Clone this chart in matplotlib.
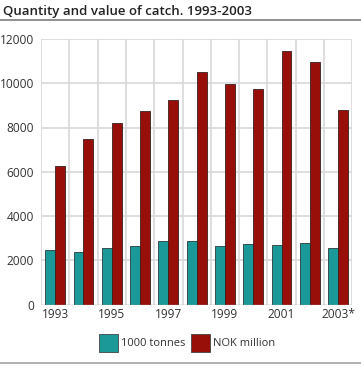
import matplotlib
matplotlib.use("Agg")
import matplotlib.pyplot as plt
from matplotlib.lines import Line2D
from matplotlib.patches import Patch
import numpy as np

years = ["1993", "1994", "1995", "1996", "1997", "1998", "1999", "2000", "2001", "2002", "2003*"]
tonnes = [2470, 2370, 2560, 2660, 2880, 2870, 2660, 2740, 2710, 2770, 2560]
nok = [6280, 7490, 8210, 8740, 9230, 10510, 9950, 9730, 11440, 10980, 8770]
title = "Quantity and value of catch. 1993-2003"
labels = ["1000 tonnes", "NOK million"]
yticks = [0, 2000, 4000, 6000, 8000, 10000, 12000]

teal = "#1b9898"
red = "#980e08"
plt.rcParams['font.family'] = ['Open Sans', 'DejaVu Sans']

fig = plt.figure(figsize=(3.61, 3.66), dpi=100)
ax = fig.add_axes([41/361, 1-304.5/366, (352.3-41)/361, (304.5-39)/366])

x = np.arange(len(years))
w = 0.35
ax.bar(x - w/2, tonnes, w, color=teal, edgecolor="#2a3a3a", linewidth=0.6, zorder=3)
ax.bar(x + w/2, nok, w, color=red, edgecolor="#3a2020", linewidth=0.6, zorder=3)

ax.set_xlim(-0.5, len(years) - 0.5)
ax.set_ylim(0, 12000)
ax.set_yticks(yticks)
ax.set_yticklabels([str(v) for v in yticks])
ax.set_xticks(x[::2])
ax.set_xticklabels(years[::2])
for v in yticks[1:]:
    ax.axhline(v, color="#d8d8d8", lw=1.2, zorder=1)
for b in np.arange(-0.5, len(years), 1.0):
    ax.axvline(b, color="#d8d8d8", lw=1.2, zorder=1)
for s in ax.spines.values():
    s.set_visible(False)
ax.axhline(0, color="#999999", lw=1.0, zorder=4)
ax.tick_params(axis="both", length=0, labelsize=8.6, colors="#333333", pad=2.5)
ax.tick_params(axis="y", pad=5)

fig.text(3/361, 1-11/366, title, fontsize=9.5, fontweight="semibold", color="#222222", va="center", ha="left")
fig.add_artist(Line2D([0, 1], [1-19.5/366, 1-19.5/366], color="#888888", lw=1.3))
fig.add_artist(Line2D([0, 1], [1-363/366, 1-363/366], color="#aaaaaa", lw=1.3))

handles = [Patch(facecolor=teal, edgecolor="#444444", lw=0.6), Patch(facecolor=red, edgecolor="#444444", lw=0.6)]
fig.legend(handles, labels, loc="center", bbox_to_anchor=(187/361, 1-343/366), ncol=2, frameon=False,
           fontsize=8, handlelength=1.75, handleheight=2.2, handletextpad=0.25, columnspacing=0.5,
           labelcolor="#333333")

fig.savefig("out.png", dpi=100)
